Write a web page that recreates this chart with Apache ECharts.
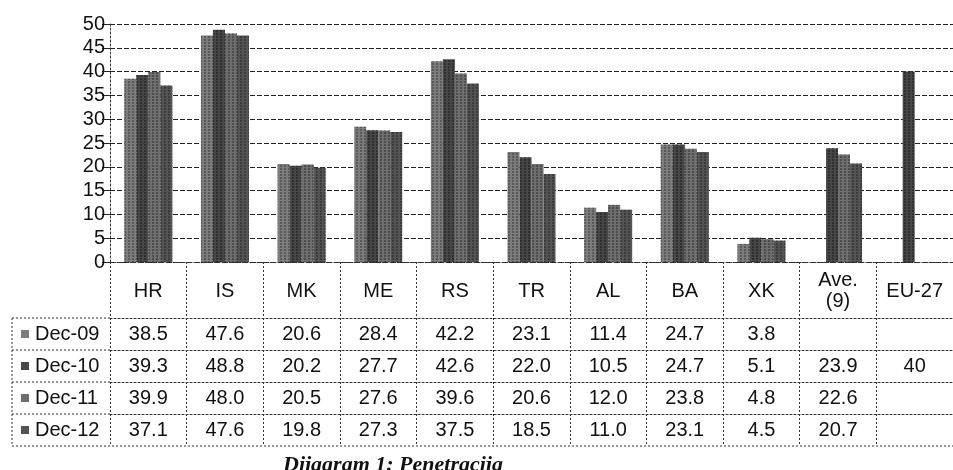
<!DOCTYPE html>
<html>
<head>
<meta charset="utf-8">
<script src="https://cdn.jsdelivr.net/npm/echarts@6/dist/echarts.min.js"></script>
<style>
    html, body { margin: 0; padding: 0; background: #fff; }
    #chart { width: 953px; height: 470px; }
</style>
</head>
<body>
<div id="chart"></div>
<script>
const categories = ['HR', 'IS', 'MK', 'ME', 'RS', 'TR', 'AL', 'BA', 'XK', 'Ave.\n(9)', 'EU-27'];
const seriesNames = ['Dec-09', 'Dec-10', 'Dec-11', 'Dec-12'];
const dec09 = [38.5, 47.6, 20.6, 28.4, 42.2, 23.1, 11.4, 24.7, 3.8, null, null];
const dec10 = [39.3, 48.8, 20.2, 27.7, 42.6, 22.0, 10.5, 24.7, 5.1, 23.9, 40];
const dec11 = [39.9, 48.0, 20.5, 27.6, 39.6, 20.6, 12.0, 23.8, 4.8, 22.6, null];
const dec12 = [37.1, 47.6, 19.8, 27.3, 37.5, 18.5, 11.0, 23.1, 4.5, 20.7, null];
const yMin = 0, yMax = 50, yStep = 5;

const rows = [dec09, dec10, dec11, dec12];
const barColors = ['#7c7c7c', '#474747', '#6e6e6e', '#545454'];
const dotColors = ['#3a3a3a', '#1e1e1e', '#303030', '#262626'];

const font = '"Liberation Sans", Arial, sans-serif';
const gridLeft = 110, gridTop = 24, floorY = 262;
const rowTop = 318, rowH = 32;

const dotted = { type: [2, 2], color: '#333', width: 1 };

const fmt = v => (v === null || v === undefined) ? '' : (v === 40 ? '40' : v.toFixed(1));

// the table rows are extra category axes hung under the plot
const rowAxes = rows.map((vals, k) => ({
    type: 'category',
    gridIndex: 0,
    position: 'bottom',
    offset: rowTop + rowH * k - floorY,
    data: categories,
    axisLine: { show: true, lineStyle: dotted },
    axisTick: { show: false },
    axisLabel: {
        interval: 0,
        margin: rowH / 2,
        verticalAlign: 'middle',
        fontFamily: font,
        fontSize: 20,
        color: '#111',
        formatter: (v, i) => fmt(vals[i])
    }
}));

const series = rows.map((vals, k) => ({
    name: seriesNames[k],
    type: 'bar',
    data: vals,
    barWidth: 12,
    barGap: '0%',
    itemStyle: {
        color: barColors[k],
        decal: {
            symbol: 'rect',
            symbolSize: 0.7,
            color: dotColors[k],
            dashArrayX: [2, 2],
            dashArrayY: [2, 1],
            rotation: 0
        }
    }
}));

const graphic = [];
// left column (series labels) box
for (let k = 0; k <= rows.length; k++) {
    graphic.push({
        type: 'line',
        shape: { x1: 12, y1: rowTop + rowH * k, x2: k === rows.length ? 953 : gridLeft, y2: rowTop + rowH * k },
        style: { stroke: '#333', lineWidth: 1, lineDash: [2, 2] }
    });
}
graphic.push({
    type: 'line',
    shape: { x1: 12, y1: rowTop, x2: 12, y2: rowTop + rowH * rows.length },
    style: { stroke: '#333', lineWidth: 1, lineDash: [2, 2] }
});
seriesNames.forEach((name, k) => {
    const cy = rowTop + rowH * k + rowH / 2;
    graphic.push({
        type: 'rect',
        shape: { x: 21, y: cy - 4, width: 8, height: 8 },
        style: { fill: barColors[k] }
    });
    graphic.push({
        type: 'text',
        x: 35, y: cy,
        style: { text: name, font: '20px ' + font, fill: '#111', verticalAlign: 'middle' }
    });
});
graphic.push({
    type: 'text',
    x: 283, y: 454,
    style: {
        text: 'Dijagram 1: Penetracija',
        font: 'italic bold 22px "Liberation Serif", "Times New Roman", serif',
        fill: '#111'
    }
});

const option = {
    animation: false,
    aria: { enabled: true, decal: { show: true } },
    grid: { left: gridLeft, right: 0, top: gridTop, bottom: 470 - floorY },
    xAxis: [{
        type: 'category',
        data: categories,
        axisLine: { show: true, lineStyle: dotted },
        axisTick: { show: true, interval: 0, length: rowTop + rowH * rows.length - floorY, lineStyle: dotted },
        axisLabel: {
            interval: 0,
            margin: 29,
            verticalAlign: 'middle',
            fontFamily: font,
            fontSize: 20,
            lineHeight: 21,
            color: '#111'
        }
    }].concat(rowAxes),
    yAxis: {
        type: 'value',
        min: yMin,
        max: yMax,
        interval: yStep,
        axisLine: { show: true, lineStyle: dotted },
        axisTick: { show: true, length: 8, lineStyle: { color: '#222' } },
        axisLabel: { fontFamily: font, fontSize: 20, color: '#111', margin: 5 },
        splitLine: { show: true, lineStyle: { color: '#222', width: 1.2, type: [5, 2] } }
    },
    series,
    graphic
};

const chart = echarts.init(document.getElementById('chart'));
chart.setOption(option);
window.addEventListener('resize', () => {
    chart.resize();
});
</script>
</body>
</html>
